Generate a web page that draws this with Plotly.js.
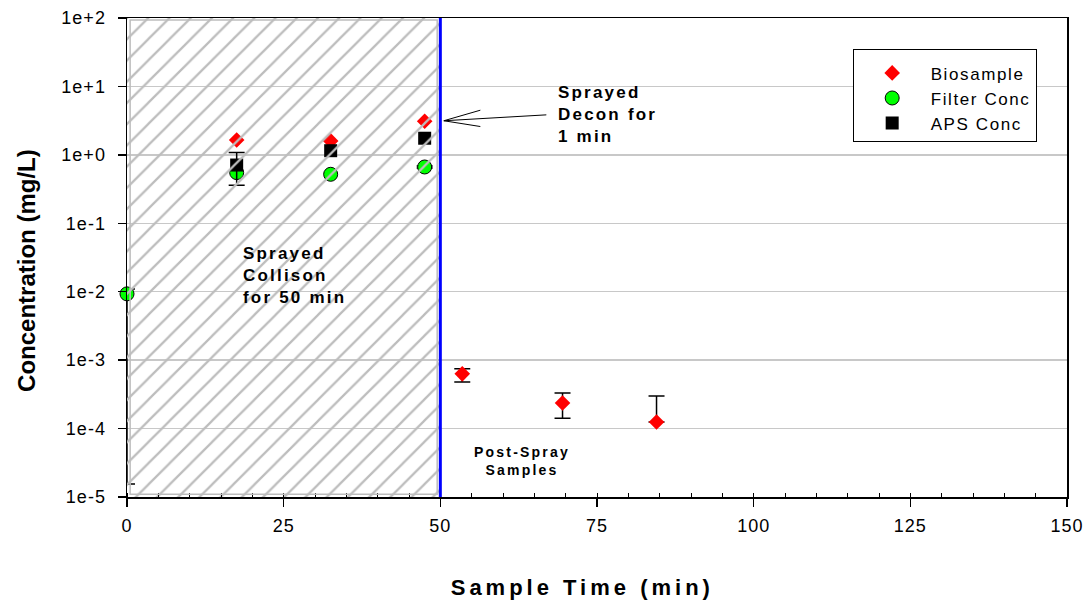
<!DOCTYPE html>
<html>
<head>
<meta charset="utf-8">
<script src="https://cdn.plot.ly/plotly-3.0.1.min.js"></script>
<style>
html,body{margin:0;padding:0;background:#fff;}
.xtick text, .ytick text{letter-spacing:1px;}
.annotation-text{letter-spacing:2.2px;}
#chart g.annotation[data-index="0"] .annotation-text{letter-spacing:4px;}
#chart g.annotation[data-index="1"] .annotation-text{letter-spacing:0px;}
.legendtext{letter-spacing:1.6px;}
</style>
</head>
<body>
<div id="chart" style="width:1086px;height:601px;"></div>
<script>
// ---- data ----
const bioTime   = [17.5, 32.5, 47.5, 53.5, 69.5, 84.5];
const bioConc   = [1.65, 1.6, 3.1, 6.3e-4, 2.37e-4, 1.25e-4];
const bioErrUp  = [NaN, NaN, NaN, 1.2e-4, 0.93e-4, 1.75e-4];
const bioErrDn  = [NaN, NaN, NaN, 1.5e-4, 0.95e-4, NaN];

const filterTime  = [0, 17.5, 32.5, 47.5];
const filterConc  = [0.0093, 0.55, 0.52, 0.665];
const filterErrUp = [0.0017, NaN, NaN, 0.02];
const filterErrDn = [0.0092845, NaN, NaN, 0.02];

const apsTime  = [17.5, 32.5, 47.5];
const apsConc  = [0.71, 1.15, 1.75];
const apsErrUp = [0.37, NaN, NaN];
const apsErrDn = [0.35, NaN, NaN];

const collisonStart = 0;
const collisonEnd   = 50;   // spray period end (min)
const yMin = 1e-5, yMax = 1e2;

const yTickVals = [1e-5, 1e-4, 1e-3, 1e-2, 1e-1, 1e0, 1e1, 1e2];
const yTickText = ['1e-5','1e-4','1e-3','1e-2','1e-1','1e+0','1e+1','1e+2'];
const xTickVals = [0, 25, 50, 75, 100, 125, 150];

const FONT = 'Liberation Sans, Arial, sans-serif';

function errBar(up, dn){
  return {type:'data', symmetric:false, array:up, arrayminus:dn,
          color:'#000', thickness:1.5, width:8, visible:true};
}

const traces = [
  {x:bioTime, y:bioConc, name:'Biosample', mode:'markers', type:'scatter',
   marker:{symbol:'diamond', size:12, color:'#ff0000'},
   error_y:errBar(bioErrUp, bioErrDn)},
  {x:filterTime, y:filterConc, name:'Filter Conc', mode:'markers', type:'scatter',
   cliponaxis:false,
   marker:{symbol:'circle', size:14, color:'#00ff00', line:{color:'#000', width:1}},
   error_y:errBar(filterErrUp, filterErrDn)},
  {x:apsTime, y:apsConc, name:'APS Conc', mode:'markers', type:'scatter',
   marker:{symbol:'square', size:13, color:'#000000'},
   error_y:errBar(apsErrUp, apsErrDn)},
  {x:[collisonStart, collisonStart, collisonEnd, collisonEnd, collisonStart],
   y:[yMin, yMax, yMax, yMin, yMin],
   mode:'lines', type:'scatter', fill:'toself', showlegend:false, hoverinfo:'skip',
   line:{width:0, color:'rgba(0,0,0,0)'},
   fillcolor:'rgba(0,0,0,0)',
   fillpattern:{shape:'/', fgcolor:'#bdbdbd', bgcolor:'rgba(0,0,0,0)', size:15, solidity:0.15}}
];

const layout = {
  width:1086, height:601,
  margin:{l:127, r:19, t:18, b:104},
  paper_bgcolor:'#fff', plot_bgcolor:'#fff',
  font:{family:FONT, color:'#000'},
  showlegend:true,
  legend:{x:0.772, y:0.935, xanchor:'left', yanchor:'top',
          bgcolor:'#fff', bordercolor:'#000', borderwidth:1,
          font:{family:FONT, size:17, color:'#000'}, itemwidth:67,
          title:{text:' ', font:{size:4}}},
  xaxis:{range:[0,150], tickvals:xTickVals, ticks:'outside', ticklen:8, tickwidth:1.5,
         tickcolor:'#000', showline:true, linecolor:'#000', linewidth:1.5, mirror:true,
         showgrid:false, zeroline:false, ticklabelstandoff:4,
         tickfont:{family:FONT, size:18, color:'#000'},
         minor:{tick0:0, dtick:5, ticks:'inside', ticklen:4, tickwidth:1, tickcolor:'#000', showgrid:false}},
  yaxis:{type:'log', range:[-5,2], tickvals:yTickVals, ticktext:yTickText,
         ticks:'outside', ticklen:8, tickwidth:1.5, tickcolor:'#000',
         showline:true, linecolor:'#000', linewidth:1.5, mirror:true,
         showgrid:true, gridcolor:'#c8c8c8', gridwidth:1.5, zeroline:false,
         ticklabelstandoff:8,
         tickfont:{family:FONT, size:18, color:'#000'}},
  shapes:[
    {type:'rect', xref:'x', yref:'paper', x0:collisonStart+0.5, x1:collisonEnd-0.5, y0:0.006, y1:0.996,
     line:{color:'#bdbdbd', width:1.5}, fillcolor:'rgba(0,0,0,0)', layer:'above'},
    {type:'line', xref:'x', yref:'paper', x0:collisonEnd, x1:collisonEnd, y0:0, y1:1,
     line:{color:'#0000ff', width:3}, layer:'above'}
  ],
  annotations:[
    {xref:'paper', yref:'paper', x:0.485, y:-0.188, xanchor:'center', yanchor:'middle',
     showarrow:false, text:'<b>Sample Time (min)</b>', font:{family:FONT, size:22, color:'#000'}},
    {xref:'paper', yref:'paper', x:-0.1064, y:0.474, xanchor:'center', yanchor:'middle', textangle:-90,
     showarrow:false, text:'<b>Concentration (mg/L)</b>', font:{family:FONT, size:24, color:'#000'}},
    {xref:'x', yref:'y', x:18.15, y:Math.log10(0.017), xanchor:'left', yanchor:'middle', align:'left',
     showarrow:false, text:'<b>Sprayed<br>Collison<br>for 50 min</b>', font:{family:FONT, size:17, color:'#000'}},
    {xref:'x', yref:'y', x:68.5, y:Math.log10(3.95), xanchor:'left', yanchor:'middle', align:'left',
     showarrow:false, text:'<b>Sprayed<br>Decon for<br>1 min</b>', font:{family:FONT, size:17, color:'#000'}},
    {xref:'x', yref:'y', x:63.0, y:Math.log10(3.36e-5), xanchor:'center', yanchor:'middle', align:'center',
     showarrow:false, text:'<b>Post-Spray<br>Samples</b>', font:{family:FONT, size:14, color:'#000'}},
    {xref:'x', yref:'y', x:50.56, y:Math.log10(3.15), text:'', showarrow:true, arrowhead:0,
     arrowwidth:1, arrowcolor:'#000', ax:104, ay:-6, standoff:0, startstandoff:0},
    {xref:'x', yref:'y', x:50.56, y:Math.log10(3.15), text:'', showarrow:true, arrowhead:0,
     arrowwidth:1, arrowcolor:'#000', ax:38, ay:-11, standoff:0, startstandoff:0},
    {xref:'x', yref:'y', x:50.56, y:Math.log10(3.15), text:'', showarrow:true, arrowhead:0,
     arrowwidth:1, arrowcolor:'#000', ax:38, ay:6, standoff:0, startstandoff:0}
  ]
};

Plotly.newPlot('chart', traces, layout, {displayModeBar:false, staticPlot:true});
</script>
</body>
</html>
